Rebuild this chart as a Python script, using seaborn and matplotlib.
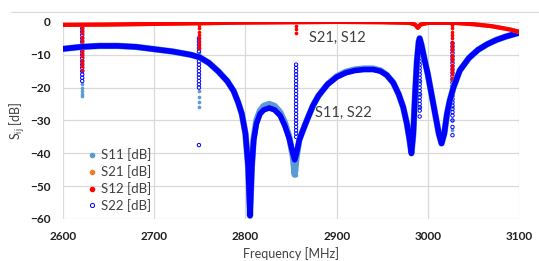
#!/usr/bin/env python3
"""S-parameter sweep, 2600-3100 MHz - scatter of S11/S21/S12/S22"""

import matplotlib.pyplot as plt
import seaborn as sns
from matplotlib.lines import Line2D

# main traces (MHz, dB)
freq = [2600, 2620, 2640, 2660, 2680, 2700, 2720, 2740, 2750, 2760, 2770, 2780, 2787,
        2792, 2796, 2800, 2803, 2805, 2807, 2809, 2812, 2816, 2820, 2826, 2832, 2838,
        2843, 2848, 2852, 2854, 2856, 2859, 2863, 2868, 2874, 2880, 2890, 2900, 2910,
        2920, 2930, 2940, 2948, 2955, 2962, 2968, 2973, 2977, 2980, 2982, 2984, 2986,
        2988, 2990, 2991, 2993, 2996, 3000, 3004, 3008, 3012, 3015, 3018, 3021, 3024,
        3028, 3035, 3045, 3055, 3065, 3075, 3085, 3095, 3100]
s22 = [-8.2, -7.6, -7.3, -7.3, -7.6, -8.3, -9.0, -10.0, -10.8, -12.5, -15.0, -18.0, -21.0,
       -24.5, -28.0, -34.0, -44.0, -59.0, -44.0, -36.0, -31.0, -28.0, -26.8, -26.2, -26.8, -28.5,
       -31.5, -35.5, -40.0, -42.0, -40.0, -36.0, -33.0, -29.5, -25.5, -22.5, -19.0, -16.8, -15.5,
       -14.8, -14.5, -14.5, -15.0, -16.2, -18.5, -22.0, -26.0, -31.0, -36.0, -40.0, -34.0, -22.0,
       -12.0, -6.0, -5.0, -7.0, -11.0, -16.0, -22.0, -28.0, -34.0, -37.0, -34.0, -28.0, -24.0,
       -20.0, -14.8, -11.0, -8.5, -6.8, -5.5, -4.5, -3.7, -3.3]
s11 = [-8.2, -7.6, -7.3, -7.3, -7.6, -8.3, -9.0, -10.0, -10.8, -12.5, -15.0, -18.0, -21.0,
       -24.5, -28.0, -34.0, -44.0, -59.0, -44.0, -35.5, -30.0, -27.0, -25.6, -25.0, -25.6, -27.5,
       -30.5, -35.0, -41.0, -46.5, -41.0, -36.0, -33.0, -29.5, -25.5, -22.5, -19.0, -16.6, -15.2,
       -14.5, -14.2, -14.2, -14.8, -16.2, -18.5, -22.0, -26.0, -31.0, -36.0, -40.0, -34.0, -22.0,
       -12.0, -6.0, -5.0, -7.0, -11.0, -16.0, -22.0, -28.0, -34.0, -37.0, -34.0, -28.0, -24.0,
       -20.0, -14.8, -11.0, -8.5, -6.8, -5.5, -4.5, -3.7, -3.3]
freq_t = [2600, 2650, 2700, 2750, 2800, 2850, 2900, 2950, 2980, 2986, 2989, 2992, 3000,
          3030, 3050, 3070, 3090, 3100]
s12 = [-0.9, -0.8, -0.6, -0.4, -0.2, -0.1, 0.0, -0.1, -0.3, -0.8, -1.8, -0.8, -0.3,
       -0.3, -0.7, -1.3, -2.3, -3.0]
s21 = s12

# vertical streaks of stray points
sp12_f = [2621] * 14 + [2749] * 8 + [2855.5] * 3 + [3027] * 18
sp12_v = [-1.5, -2.5, -3.5, -4.5, -5.5, -6.5, -7.5, -8.5, -9.5, -10.5, -11.5, -12.5, -13.5, -14.5,
          -1, -2, -3, -4, -5, -6, -7, -7.8,
          -1.2, -2.3, -3.4,
          -1, -2, -3, -4, -5, -6, -7, -8, -9, -10, -11, -12, -13, -14, -15, -16, -17, -17.8]
sp22_f = [2621] * 17 + [2749] * 15 + [2855.5] * 23 + [2991] * 20 + [3027] * 26
sp22_v = [-2, -3, -4, -5, -6, -7, -8, -9, -10, -11, -12, -13, -14, -15, -16, -17, -18,
          -5, -6, -7, -8, -9, -12, -13, -14, -15, -16, -17, -18, -19, -20, -37.5,
          -13, -14, -15, -16, -17, -18, -19, -20, -21, -22, -23, -24, -25, -26, -27, -28,
          -29, -30, -31, -32, -33, -34, -35,
          -9, -10, -11, -12, -13, -14, -15, -16, -17, -18, -19, -20, -21, -22, -23, -24,
          -25, -26, -27, -28.8,
          -6.5, -7.5, -8.5, -9.5, -10.5, -11.5, -12.5, -13.5, -14.5, -15.5, -16.5, -17.5,
          -18.5, -19.5, -20.5, -21.5, -22.5, -23.5, -24.5, -25.5, -26.5, -27.5, -28.5,
          -30, -32, -34.5]
sp11_f = [2621] * 5 + [2749] * 6 + [2855.5] * 3 + [2991] * 3 + [3027] * 3
sp11_v = [-19, -20, -21, -22, -22.5, -9.5, -10.5, -21, -23, -24.5, -25.8, -43, -45, -46.5,
          -18, -22, -26, -26, -30, -33]

sns.set_style("white")
plt.rcParams['font.family'] = ['Lato', 'DejaVu Sans']

C11, C21, C12, C22 = '#5b9bd5', '#ed7d31', '#ff0000', '#0000ff'

fig = plt.figure(figsize=(5.39, 2.61), dpi=100)
ax = fig.add_axes([0.117, 0.161, 0.846, 0.755])

sns.lineplot(x=freq, y=s11, color=C11, linewidth=4.6, ax=ax, sort=False)
sns.lineplot(x=freq, y=s22, color=C22, linewidth=4.0, ax=ax, sort=False)
sns.scatterplot(x=sp11_f, y=sp11_v, color=C11, s=7, linewidth=0, ax=ax)
sns.scatterplot(x=sp22_f, y=sp22_v, facecolor='none', edgecolor=C22, s=6, linewidth=0.7, ax=ax)
sns.lineplot(x=freq_t, y=s21, color=C21, linewidth=3.0, ax=ax, sort=False)
sns.lineplot(x=freq_t, y=s12, color=C12, linewidth=3.0, ax=ax, sort=False)
sns.scatterplot(x=sp12_f, y=sp12_v, color=C12, s=7, linewidth=0, ax=ax)

ax.set_xlim(2600, 3100)
ax.set_ylim(-60, 0)
ax.set_xticks(range(2600, 3101, 100))
ax.set_yticks(range(-60, 1, 10))
ax.grid(True, color='#d9d9d9', linewidth=0.9)
ax.set_axisbelow(True)
for s in ax.spines.values():
    s.set_visible(False)
ax.tick_params(length=0, pad=9, labelsize=8.5, labelcolor='#202020')
for lab in ax.get_xticklabels() + ax.get_yticklabels():
    lab.set_fontweight('bold')
ax.set_xlabel('Frequency [MHz]', fontsize=9, color='#404040', labelpad=3)
ax.set_ylabel(r'S$_{\mathregular{ij}}$ [dB]', fontsize=9, color='#404040', labelpad=2)

ax.text(2870, -4.9, 'S21, S12', fontsize=10.5, color='#404040', va='center')
ax.text(2876, -27.7, 'S11, S22', fontsize=10.5, color='#404040', va='center')

handles = [
    Line2D([], [], ls='', marker='o', ms=3, color=C11, label='S11 [dB]'),
    Line2D([], [], ls='', marker='o', ms=3, color=C21, label='S21 [dB]'),
    Line2D([], [], ls='', marker='o', ms=3, color=C12, label='S12 [dB]'),
    Line2D([], [], ls='', marker='o', ms=3, mfc='none', mec=C22, mew=0.7, label='S22 [dB]'),
]
leg = ax.legend(handles=handles, loc='upper left', bbox_to_anchor=(0.035, 0.385),
                frameon=False, fontsize=9.5, handletextpad=0.1, labelspacing=0.3,
                handlelength=1.2, borderaxespad=0)
for t in leg.get_texts():
    t.set_color('#404040')

fig.add_artist(Line2D([0.02, 1.0], [1 - 12 / 261] * 2, color='#d9d9d9', linewidth=0.8))

fig.savefig('out.png', dpi=100)
